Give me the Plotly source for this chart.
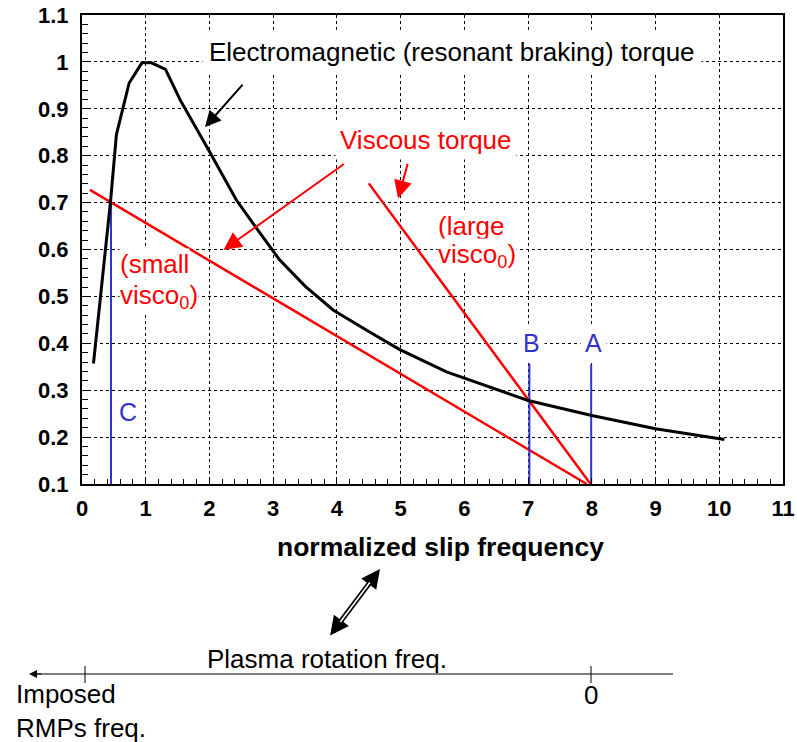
import plotly.graph_objects as go

# Electromagnetic (resonant braking) torque vs normalized slip frequency
slip = [0.18, 0.45, 0.54, 0.74, 0.94, 1.09, 1.31, 1.54, 2.0, 2.42, 2.74, 3.1,
        3.5, 3.94, 4.5, 4.98, 5.72, 6.24, 6.55, 7.0, 8.0, 9.0, 10.08]
em_torque = [0.357, 0.706, 0.845, 0.955, 0.998, 0.998, 0.984, 0.919, 0.809,
             0.706, 0.645, 0.578, 0.522, 0.471, 0.425, 0.387, 0.339, 0.314,
             0.300, 0.278, 0.246, 0.218, 0.195]

# Viscous torque lines
small_visc_x = [0.125, 7.92]
small_visc_y = [0.727, 0.1]
large_visc_x = [4.5, 7.98]
large_visc_y = [0.741, 0.1]

# Equilibrium markers C, B, A
eq_names = ["C", "B", "A"]
eq_x = [0.455, 7.02, 7.99]
eq_top = [0.706, 0.357, 0.355]
eq_label_x = [0.72, 7.05, 8.02]
eq_label_y = [0.254, 0.401, 0.401]

x_ticks = list(range(0, 12))
y_ticks = [0.1, 0.2, 0.3, 0.4, 0.5, 0.6, 0.7, 0.8, 0.9, 1.0, 1.1]
y_tick_text = ["0.1", "0.2", "0.3", "0.4", "0.5", "0.6", "0.7", "0.8", "0.9", "1", "1.1"]

FONT = "Liberation Sans, Arial, sans-serif"
RED = "#FF0000"
BLUE = "#3333CC"

W, H = 797, 742
ML, MR, MT, MB = 82, 14, 15, 258
PW, PH = W - ML - MR, H - MT - MB


def px_x(px):
    return (px - ML) / PW


def px_y(py):
    return (H - MB - py) / PH


fig = go.Figure()

fig.add_trace(go.Scatter(x=small_visc_x, y=small_visc_y, mode="lines",
                         line=dict(color=RED, width=2.5), showlegend=False))
fig.add_trace(go.Scatter(x=large_visc_x, y=large_visc_y, mode="lines",
                         line=dict(color=RED, width=2.5), showlegend=False))
for name, xv, top in zip(eq_names, eq_x, eq_top):
    fig.add_trace(go.Scatter(x=[xv, xv], y=[0.1, top], mode="lines",
                             line=dict(color=BLUE, width=2), showlegend=False,
                             name=name))
fig.add_trace(go.Scatter(x=slip, y=em_torque, mode="lines",
                         line=dict(color="black", width=3), showlegend=False))

ann = []


def label(x, y, text, color, size=26, pad=0, anchor="left"):
    return dict(x=x, y=y, text=text, showarrow=False, xanchor=anchor,
                yanchor="middle", font=dict(size=size, color=color, family=FONT),
                bgcolor="white", borderpad=pad)


# Text labels inside the plot
ann.append(label(5.81, 1.021, "Electromagnetic (resonant braking) torque",
                 "black", pad=6, anchor="center"))
ann.append(label(5.40, 0.833, "Viscous torque", RED, pad=4, anchor="center"))
ann.append(label(0.58, 0.569, "(small", RED))
ann.append(label(0.58, 0.499, "visco<sub>0</sub>)", RED))
ann.append(label(5.57, 0.651, "(large", RED))
ann.append(label(5.57, 0.587, "visco<sub>0</sub>)", RED))
for name, lx, ly in zip(eq_names, eq_label_x, eq_label_y):
    ann.append(label(lx, ly, name, BLUE, size=25, pad=4, anchor="center"))

# Pointer arrows
ann.append(dict(x=1.93, y=0.861, ax=39, ay=-44, text="", showarrow=True,
                arrowhead=2, arrowsize=1.6, arrowwidth=2, arrowcolor="black"))
ann.append(dict(x=2.22, y=0.599, ax=122, ay=-87, text="", showarrow=True,
                arrowhead=2, arrowsize=1.8, arrowwidth=2, arrowcolor=RED))
ann.append(dict(x=4.96, y=0.709, ax=10, ay=-36, text="", showarrow=True,
                arrowhead=2, arrowsize=1.8, arrowwidth=2, arrowcolor=RED))

# Axis title
ann.append(dict(x=px_x(440), y=px_y(547), xref="paper", yref="paper",
                xanchor="center", yanchor="middle",
                text="<b>normalized slip frequency</b>", showarrow=False,
                font=dict(size=26.5, color="black", family=FONT)))

# Double-headed hollow arrow linking the two frequency scales
ann.append(dict(x=px_x(380), y=px_y(569), xref="paper", yref="paper",
                ax=-51, ay=68, text="", showarrow=True, arrowside="end+start",
                arrowhead=2, startarrowhead=2, arrowsize=0.75, startarrowsize=0.75,
                arrowwidth=5, arrowcolor="black"))
ann.append(dict(x=px_x(380), y=px_y(569), xref="paper", yref="paper",
                ax=-51, ay=68, text="", showarrow=True, arrowhead=0,
                standoff=17, startstandoff=17, arrowwidth=1.6, arrowcolor="white"))

# Plasma rotation frequency scale
ann.append(dict(x=px_x(205), y=px_y(659), xref="paper", yref="paper",
                text="Plasma rotation freq.", showarrow=False,
                xanchor="left", yanchor="middle",
                font=dict(size=26, color="black", family=FONT)))
ann.append(dict(x=px_x(29), y=px_y(674), xref="paper", yref="paper",
                ax=14, ay=0, text="", showarrow=True, arrowhead=2,
                arrowsize=1.6, arrowwidth=1, arrowcolor="black"))
ann.append(dict(x=px_x(14), y=px_y(711), xref="paper", yref="paper",
                text="Imposed<br>RMPs freq.", showarrow=False,
                xanchor="left", yanchor="middle", align="left",
                font=dict(size=26, color="black", family=FONT)))
ann.append(dict(x=px_x(591), y=px_y(695), xref="paper", yref="paper",
                text="0", showarrow=False, xanchor="center", yanchor="middle",
                font=dict(size=26, color="black", family=FONT)))

shapes = [
    dict(type="line", xref="paper", yref="paper", x0=px_x(36), x1=px_x(673),
         y0=px_y(674), y1=px_y(674), line=dict(color="black", width=1)),
    dict(type="line", xref="paper", yref="paper", x0=px_x(85), x1=px_x(85),
         y0=px_y(666), y1=px_y(683), line=dict(color="black", width=1)),
    dict(type="line", xref="paper", yref="paper", x0=px_x(591), x1=px_x(591),
         y0=px_y(666), y1=px_y(683), line=dict(color="black", width=1)),
]

axis_common = dict(
    automargin=False,
    showline=True, linecolor="black", linewidth=2, mirror=True,
    showgrid=True, gridcolor="black", gridwidth=1, griddash="3px,3px",
    zeroline=False, ticks="inside", tickcolor="black", ticklen=6, tickwidth=1,
    tickfont=dict(size=22, color="black", family=FONT, weight="bold"),
)

fig.update_layout(
    width=W, height=H,
    margin=dict(l=ML, r=MR, t=MT, b=MB, autoexpand=False),
    paper_bgcolor="white", plot_bgcolor="white",
    xaxis=dict(range=[0, 11], tickvals=x_ticks, ticklabelstandoff=4,
               minor=dict(dtick=0.2, ticks="inside", ticklen=5, tickcolor="black",
                          showgrid=False),
               **axis_common),
    yaxis=dict(range=[0.1, 1.1], tickvals=y_ticks, ticktext=y_tick_text,
               ticklabelstandoff=7,
               minor=dict(dtick=0.02, tick0=0.1, ticks="inside", ticklen=6,
                          tickcolor="black", showgrid=False),
               **axis_common),
    annotations=ann,
    shapes=shapes,
)

fig.write_html("out.html")
